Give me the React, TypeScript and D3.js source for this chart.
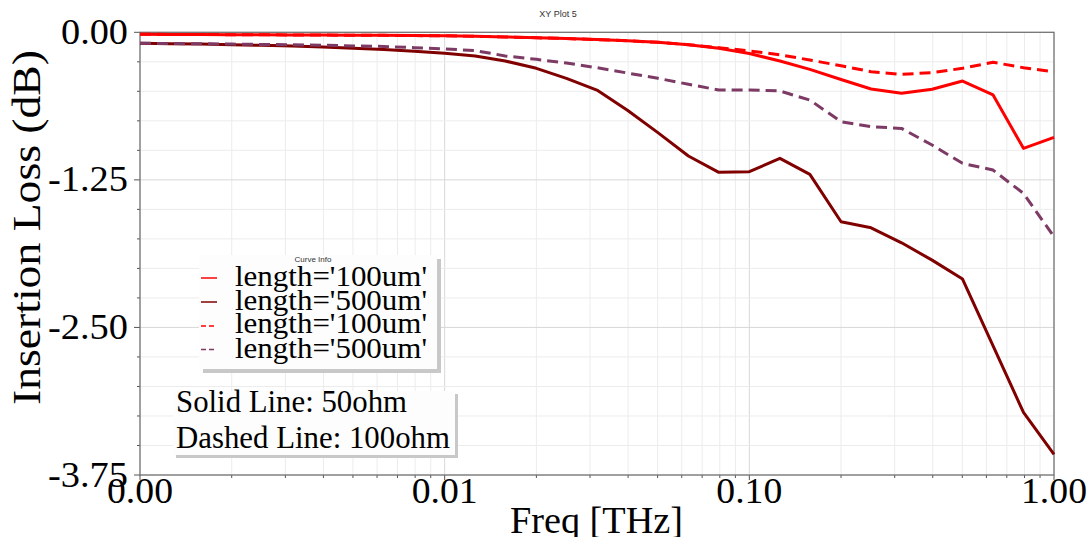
import React from "react";
import * as d3 from "d3";

const freqs = [0.001, 0.00126, 0.00158, 0.002, 0.00251, 0.00316, 0.00398, 0.00501, 0.00631, 0.00794,
  0.01, 0.0126, 0.0158, 0.02, 0.0251, 0.0316, 0.0398, 0.0501, 0.0631, 0.0794,
  0.1, 0.126, 0.158, 0.2, 0.251, 0.316, 0.398, 0.501, 0.631, 0.794, 1.0];

const solid100 = [-0.017, -0.018, -0.019, -0.02, -0.021, -0.022, -0.023, -0.025, -0.026, -0.028,
  -0.03, -0.034, -0.039, -0.046, -0.053, -0.062, -0.072, -0.085, -0.105, -0.135,
  -0.18, -0.243, -0.314, -0.4, -0.48, -0.517, -0.483, -0.413, -0.531, -0.983, -0.89];

const solid500 = [-0.093, -0.097, -0.1, -0.105, -0.11, -0.117, -0.125, -0.135, -0.146, -0.16,
  -0.178, -0.2, -0.243, -0.305, -0.39, -0.489, -0.66, -0.85, -1.048, -1.186,
  -1.181, -1.068, -1.203, -1.605, -1.656, -1.783, -1.93, -2.09, -2.656, -3.22, -3.576];

const dashed100 = [-0.017, -0.018, -0.019, -0.02, -0.021, -0.022, -0.023, -0.025, -0.026, -0.028,
  -0.03, -0.034, -0.039, -0.046, -0.053, -0.062, -0.072, -0.085, -0.105, -0.13,
  -0.158, -0.19, -0.235, -0.283, -0.334, -0.356, -0.342, -0.305, -0.254, -0.3, -0.334];

const dashed500 = [-0.093, -0.095, -0.097, -0.1, -0.103, -0.106, -0.11, -0.115, -0.12, -0.13,
  -0.14, -0.155, -0.2, -0.229, -0.26, -0.3, -0.345, -0.39, -0.44, -0.489,
  -0.489, -0.497, -0.574, -0.757, -0.8, -0.814, -0.955, -1.11, -1.167, -1.365, -1.732];

const yTickLabels = ["0.00", "-1.25", "-2.50", "-3.75"];
const yTickValues = [0, -1.25, -2.5, -3.75];
const xTickValues = [0.001, 0.01, 0.1, 1];
const xTickLabels = ["0.00", "0.01", "0.10", "1.00"];

const legendLabels = ["length='100um'", "length='500um'", "length='100um'", "length='500um'"];

const series = [
  { values: solid100, color: "#ff0000", dash: null as string | null },
  { values: solid500, color: "#800000", dash: null as string | null },
  { values: dashed100, color: "#ff0000", dash: "11,6" },
  { values: dashed500, color: "#7d3a64", dash: "11,6" },
];

const serif = "'Liberation Serif', 'Times New Roman', serif";
const sans = "'Liberation Sans', Arial, sans-serif";

export default function App() {
  const W = 1091, H = 537;
  const x0 = 140, x1 = 1054, y0 = 32.3, y1 = 475;
  const x = d3.scaleLog().domain([0.001, 1]).range([x0, x1]);
  const y = d3.scaleLinear().domain([-3.75, 0]).range([y1, y0]);

  const minorX: number[] = [];
  for (let d = -3; d < 0; d++) {
    for (let k = 1; k <= 9; k++) minorX.push(k * Math.pow(10, d));
  }
  minorX.push(1);
  const minorY = d3.range(0, 16).map((i) => -i * 0.25);

  const line = d3.line<number>()
    .x((_, i) => x(freqs[i]))
    .y((v) => y(v));

  return (
    <svg width={W} height={H} style={{ position: "absolute", left: 0, top: 0, background: "#fff" }}>
      <rect x={0} y={0} width={W} height={H} fill="#fff" />
      {minorX.map((f, i) => {
        const major = Math.abs(Math.log10(f) - Math.round(Math.log10(f))) < 1e-9;
        return <line key={"gx" + i} x1={x(f)} x2={x(f)} y1={y0} y2={y1} stroke={major ? "#d8d8d8" : "#ececec"} strokeWidth={1} />;
      })}
      {minorY.map((v, i) => {
        const major = i % 5 === 0;
        return <line key={"gy" + i} x1={x0} x2={x1} y1={y(v)} y2={y(v)} stroke={major ? "#d8d8d8" : "#ececec"} strokeWidth={1} />;
      })}
      {minorY.map((v, i) => (
        <line key={"ty" + i} x1={x0 - (i % 5 === 0 ? 6 : 3)} x2={x0} y1={y(v)} y2={y(v)} stroke="#555" strokeWidth={1} />
      ))}
      {minorX.map((f, i) => {
        const major = Math.abs(Math.log10(f) - Math.round(Math.log10(f))) < 1e-9;
        return <line key={"tx" + i} x1={x(f)} x2={x(f)} y1={y1} y2={y1 + (major ? 5 : 3)} stroke="#555" strokeWidth={1} />;
      })}
      <rect x={x0} y={y0} width={x1 - x0} height={y1 - y0} fill="none" stroke="#6e6e6e" strokeWidth={1.2} />
      {series.map((s, i) => (
        <path key={"s" + i} d={line(s.values) || ""} fill="none" stroke={s.color} strokeWidth={3}
          strokeDasharray={s.dash || undefined} strokeLinejoin="round" />
      ))}
      {yTickValues.map((v, i) => (
        <text key={"yl" + i} x={128} y={y(v) + 11.5} textAnchor="end" fontFamily={serif} fontSize={35}
          textLength={yTickLabels[i].startsWith("-") ? 80 : 67} lengthAdjust="spacingAndGlyphs" fill="#000">
          {yTickLabels[i]}
        </text>
      ))}
      {xTickValues.map((v, i) => (
        <text key={"xl" + i} x={x(v) - 33} y={503} fontFamily={serif} fontSize={35}
          textLength={66} lengthAdjust="spacingAndGlyphs" fill="#000">
          {xTickLabels[i]}
        </text>
      ))}
      <text x={558} y={16.5} textAnchor="middle" fontFamily={sans} fontSize={9} fill="#333">XY Plot 5</text>
      <text x={510} y={533} fontFamily={serif} fontSize={38} textLength={173} lengthAdjust="spacingAndGlyphs" fill="#000">Freq [THz]</text>
      <text transform="translate(40,405) rotate(-90)" x={0} y={0} fontFamily={serif} fontSize={40}
        textLength={355} lengthAdjust="spacingAndGlyphs" fill="#000">Insertion Loss (dB)</text>
      <rect x={203} y={259} width={238} height={114} fill="#c8c8c8" />
      <rect x={199} y={255} width={238} height={114} fill="#fdfdfd" />
      <text x={313} y={262} textAnchor="middle" fontFamily={sans} fontSize={8} fill="#333">Curve Info</text>
      {series.map((s, i) => {
        const ly = [278, 302, 326, 349.5][i];
        return (
          <g key={"lg" + i}>
            <line x1={201} x2={217} y1={ly} y2={ly} stroke={s.color} strokeWidth={1.5}
              strokeDasharray={s.dash ? "5,3" : undefined} />
            <text x={235} y={[285.7, 309.5, 333.3, 357.5][i]} fontFamily={serif} fontSize={30}
              textLength={192} lengthAdjust="spacingAndGlyphs" fill="#000">{legendLabels[i]}</text>
          </g>
        );
      })}
      <rect x={176} y={394} width={282} height={64} fill="#c8c8c8" />
      <rect x={173} y={391} width={282} height={64} fill="#fdfdfd" />
      <text x={176} y={411.7} fontFamily={serif} fontSize={31} textLength={231} lengthAdjust="spacingAndGlyphs" fill="#000">Solid Line: 50ohm</text>
      <text x={176} y={448.3} fontFamily={serif} fontSize={31} textLength={274} lengthAdjust="spacingAndGlyphs" fill="#000">Dashed Line: 100ohm</text>
    </svg>
  );
}
